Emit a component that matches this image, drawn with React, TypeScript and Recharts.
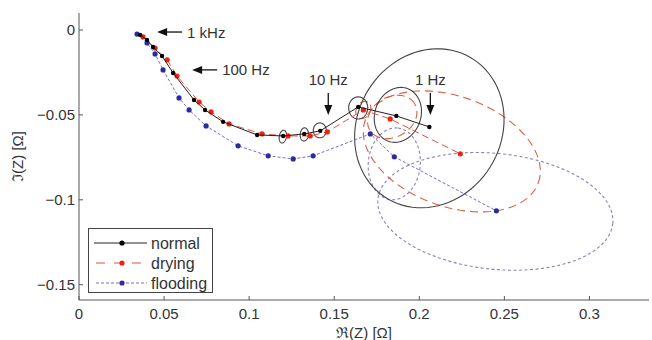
import React from "react";
import { ComposedChart, Scatter, XAxis, YAxis } from "recharts";

// ---- data (Re, Im) ----
const normalPts: [number, number][] = [
  [0.0359, -0.0029], [0.0400, -0.0059], [0.0435, -0.0100], [0.0488, -0.0153],
  [0.0553, -0.0253], [0.0676, -0.0412], [0.0741, -0.0471], [0.0847, -0.0541],
  [0.1047, -0.0618], [0.1200, -0.0624], [0.1324, -0.0612], [0.1418, -0.0594],
  [0.1641, -0.0453], [0.1865, -0.0506], [0.2059, -0.0571],
];
const dryingPts: [number, number][] = [
  [0.0376, -0.0041], [0.0447, -0.0106], [0.0518, -0.0176], [0.0576, -0.0271],
  [0.0706, -0.0424], [0.0776, -0.0482], [0.0882, -0.0553], [0.1076, -0.0612],
  [0.1229, -0.0624], [0.1359, -0.0624], [0.1459, -0.0600], [0.1671, -0.0471],
  [0.1829, -0.0524], [0.2241, -0.0729],
];
const floodingPts: [number, number][] = [
  [0.0341, -0.0024], [0.0400, -0.0076], [0.0447, -0.0141], [0.0494, -0.0235],
  [0.0588, -0.0400], [0.0647, -0.0471], [0.0747, -0.0565], [0.0935, -0.0682],
  [0.1112, -0.0741], [0.1259, -0.0759], [0.1376, -0.0741], [0.1712, -0.0612],
  [0.1853, -0.0747], [0.2453, -0.1065],
];

// confidence ellipses: [cx, cy, semi-axis a, semi-axis b, angle deg]
const normalEllipses: [number, number, number, number, number][] = [
  [0.1198, -0.0628, 0.0038, 0.0021, 80],
  [0.1324, -0.0615, 0.0039, 0.0024, 85],
  [0.1415, -0.0591, 0.0044, 0.0038, 90],
  [0.1641, -0.0459, 0.0065, 0.0056, 90],
  [0.1874, -0.0500, 0.0165, 0.0135, 70],
  [0.2059, -0.0579, 0.0482, 0.0424, 60],
];
const dryingEllipses: [number, number, number, number, number][] = [
  [0.1671, -0.0471, 0.0053, 0.0041, 60],
  [0.1841, -0.0512, 0.0153, 0.0118, 30],
  [0.2191, -0.0715, 0.0541, 0.0324, -20],
];
const floodingEllipses: [number, number, number, number, number][] = [
  [0.1853, -0.0788, 0.0212, 0.0153, 85],
  [0.2447, -0.1068, 0.0694, 0.0341, -6],
];

const xTicks = [0, 0.05, 0.1, 0.15, 0.2, 0.25, 0.3];
const yTicks = [-0.15, -0.1, -0.05, 0];

const annotations = [
  { label: "1 kHz", x: 0.0459, y: -0.0012, dir: "left" },
  { label: "100 Hz", x: 0.0665, y: -0.0235, dir: "left" },
  { label: "10 Hz", x: 0.1465, y: -0.0500, dir: "down" },
  { label: "1 Hz", x: 0.2065, y: -0.0500, dir: "down" },
];

const FONT = '"Liberation Sans", Arial, Helvetica, sans-serif';
const TXT = "#333";

const toPts = (a: [number, number][]) => a.map(([x, y]) => ({ x, y }));
const ellipse = ([cx, cy, a, b, ang]: [number, number, number, number, number]) => {
  const out: { x: number; y: number }[] = [];
  const r = (ang * Math.PI) / 180;
  const ca = Math.cos(r), sa = Math.sin(r);
  for (let i = 0; i <= 90; i++) {
    const t = (i / 90) * 2 * Math.PI;
    const u = a * Math.cos(t), v = b * Math.sin(t);
    out.push({ x: cx + u * ca - v * sa, y: cy + u * sa + v * ca });
  }
  return out;
};

const Empty = () => <g />;
const dot = (fill: string, r: number) => (p: any) =>
  p.cx == null ? <g /> : <circle cx={p.cx} cy={p.cy} r={r} fill={fill} />;

const Arrow = (p: any) => {
  const { cx, cy, payload } = p;
  if (cx == null) return <g />;
  if (payload.dir === "left") {
    return (
      <g>
        <line x1={cx + 6} y1={cy} x2={cx + 25} y2={cy} stroke="#111" strokeWidth={1.3} />
        <polygon points={`${cx},${cy} ${cx + 10},${cy - 4} ${cx + 10},${cy + 4}`} fill="#111" />
        <text x={cx + 30} y={cy} dominantBaseline="central" fontSize={15} fontFamily={FONT} fill={TXT}>
          {payload.label}
        </text>
      </g>
    );
  }
  return (
    <g>
      <line x1={cx} y1={cy - 22} x2={cx} y2={cy - 6} stroke="#111" strokeWidth={1.3} />
      <polygon points={`${cx},${cy} ${cx - 4},${cy - 10} ${cx + 4},${cy - 10}`} fill="#111" />
      <text x={cx} y={cy - 35} textAnchor="middle" dominantBaseline="central" fontSize={15} fontFamily={FONT} fill={TXT}>
        {payload.label}
      </text>
    </g>
  );
};

const fmt = (v: number) => String(v).replace("-", "\u2212");

const LegendBox = () => {
  const rows = [
    { name: "normal", stroke: "#222", dash: undefined, dotc: "#000" },
    { name: "drying", stroke: "#e8503a", dash: "9 9", dotc: "#ee2211" },
    { name: "flooding", stroke: "#6e6ed8", dash: "3 2", dotc: "#2b2ba0" },
  ];
  return (
    <div
      style={{
        position: "absolute", left: 88, top: 228, width: 123, height: 63,
        border: "1px solid #444", background: "#fff", fontFamily: FONT, fontSize: 16, color: TXT,
      }}
    >
      <svg width={123} height={63} style={{ position: "absolute", left: 0, top: 0 }}>
        {rows.map((r, i) => {
          const y = 14 + i * 20;
          return (
            <g key={r.name}>
              <line x1={5} x2={58} y1={y} y2={y} stroke={r.stroke} strokeWidth={1} strokeDasharray={r.dash} strokeDashoffset={r.dash ? -2 : 0} />
              <circle cx={33} cy={y} r={2.6} fill={r.dotc} />
              <text x={62} y={y} dominantBaseline="central" fontSize={16} fontFamily={FONT} fill={TXT}>{r.name}</text>
            </g>
          );
        })}
      </svg>
    </div>
  );
};

export default function App() {
  return (
    <div style={{ position: "absolute", left: 0, top: 0, width: 652, height: 340, background: "#fff" }}>
      <ComposedChart width={652} height={340} margin={{ top: 13, right: 3, bottom: 0, left: 0 }}>
        <XAxis
          type="number" dataKey="x" domain={[0, 0.335]} ticks={xTicks} allowDataOverflow
          height={40} tickSize={-4} tickMargin={12} stroke="#555"
          tick={{ fontSize: 15, fontFamily: FONT, fill: TXT }}
          tickFormatter={fmt}
          label={(props: any) => {
            const vb = props.viewBox;
            return (
              <text x={vb.x + vb.width / 2} y={338} textAnchor="middle" fontSize={15} fontFamily={FONT} fill={TXT}>
                ℜ(Z) [Ω]
              </text>
            );
          }}
        />
        <YAxis
          type="number" dataKey="y" domain={[-0.159, 0.01]} ticks={yTicks} allowDataOverflow
          width={79} tickSize={-4} tickMargin={8} stroke="#555"
          tick={{ fontSize: 15, fontFamily: FONT, fill: TXT }}
          tickFormatter={fmt}
          label={(props: any) => {
            const vb = props.viewBox;
            const cy = vb.y + vb.height / 2;
            return (
              <text x={17} y={cy} transform={`rotate(-90 17 ${cy})`} textAnchor="middle" dominantBaseline="central" fontSize={15} fontFamily={FONT} fill={TXT}>
                ℑ(Z) [Ω]
              </text>
            );
          }}
        />
        {floodingEllipses.map((e, i) => (
          <Scatter key={"fe" + i} data={ellipse(e)} shape={Empty} isAnimationActive={false}
            line={{ stroke: "#8a80b8", strokeWidth: 1.1, strokeDasharray: "3 2.5" }} />
        ))}
        {dryingEllipses.map((e, i) => (
          <Scatter key={"de" + i} data={ellipse(e)} shape={Empty} isAnimationActive={false}
            line={{ stroke: "#e06040", strokeWidth: 1.1, strokeDasharray: "8 5" }} />
        ))}
        {normalEllipses.map((e, i) => (
          <Scatter key={"ne" + i} data={ellipse(e)} shape={Empty} isAnimationActive={false}
            line={{ stroke: "#444", strokeWidth: 1.1 }} />
        ))}
        <Scatter data={toPts(floodingPts)} isAnimationActive={false} shape={dot("#2b2ba0", 2.6)}
          line={{ stroke: "#6e6ed8", strokeWidth: 1, strokeDasharray: "3 2" }} />
        <Scatter data={toPts(dryingPts)} isAnimationActive={false} shape={dot("#ee2211", 2.6)}
          line={{ stroke: "#e8503a", strokeWidth: 1, strokeDasharray: "7 4" }} />
        <Scatter data={toPts(normalPts)} isAnimationActive={false} shape={dot("#000", 2.2)}
          line={{ stroke: "#222", strokeWidth: 1 }} />
        <Scatter data={annotations} isAnimationActive={false} shape={Arrow} />
      </ComposedChart>
      <LegendBox />
    </div>
  );
}
